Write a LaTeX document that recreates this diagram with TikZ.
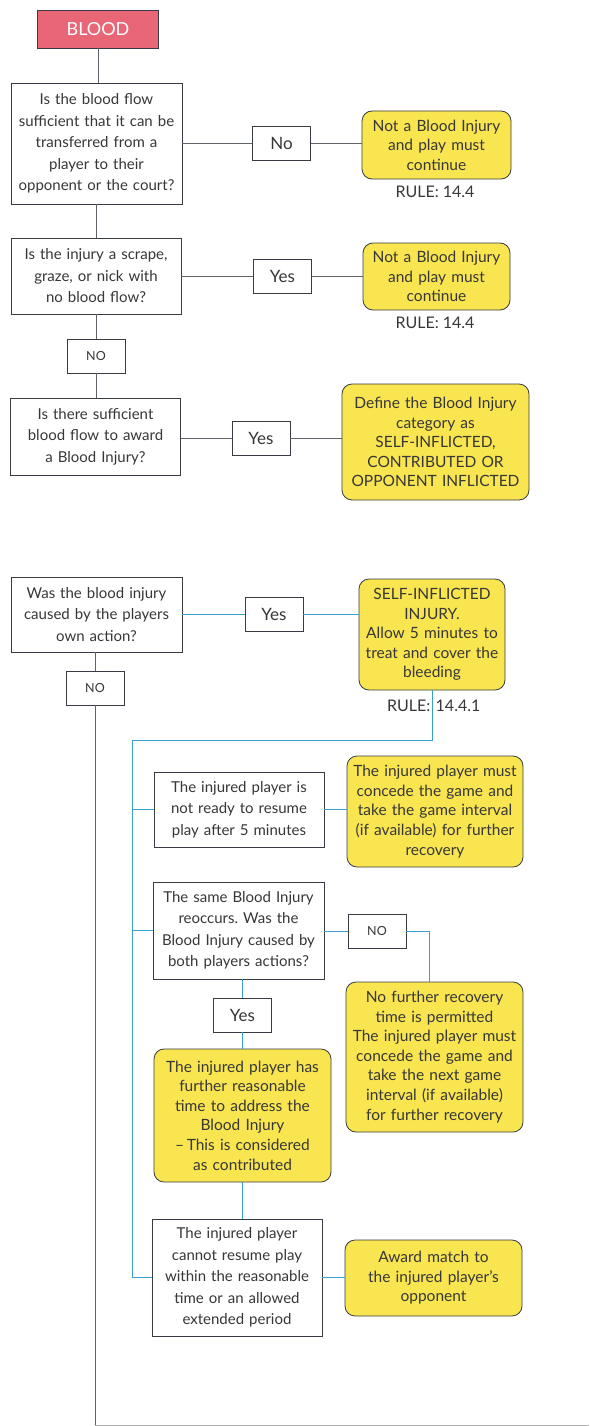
\documentclass[tikz,border=0pt]{standalone}
\usepackage{fontspec}
\setmainfont{Lato}
\frenchspacing
\definecolor{ylw}{RGB}{248,229,80}
\definecolor{pnk}{RGB}{232,102,118}
\definecolor{edge}{RGB}{55,60,68}
\definecolor{lnk}{RGB}{58,160,208}
\definecolor{ink}{RGB}{55,55,55}
\begin{document}
\begin{tikzpicture}[x=1pt,y=-1pt,
    qbox/.style={draw=edge, line width=0.8pt, fill=white, align=center, inner sep=0pt, text=ink, font=\fontsize{15}{21.5}\selectfont},
    abox/.style={draw=edge, line width=0.8pt, fill=ylw, rounded corners=10pt, align=center, inner sep=0pt, text=ink, font=\fontsize{15.5}{19.6}\selectfont},
    tag/.style={draw=edge, line width=0.8pt, fill=white, minimum width=58pt, minimum height=34pt, inner sep=0pt, text=ink, font=\fontsize{17}{20}\selectfont},
    tagsm/.style={tag, font=\fontsize{12.5}{14}\selectfont},
    rule/.style={text=ink, font=\fontsize{16}{18}\selectfont},
    ln/.style={draw=edge!80, line width=0.8pt},
    bl/.style={draw=lnk, line width=0.9pt}]
    \useasboundingbox (0,0) rectangle (589,1426);

    \node[draw=edge, line width=0.8pt, fill=pnk, text=white, minimum width=121pt, minimum height=38pt, font=\fontsize{18}{20}\selectfont] (blood) at (98,29) {BLOOD};
    \node[qbox, text width=171pt, minimum height=121pt] (q1) at (96.5,143.5) {Is the blood flow\\sufficient that it can be\\transferred from a\\player to their\\opponent or the court?};
    \node[tag] (no1) at (281.5,143.5) {No};
    \node[abox, text width=149pt, minimum height=68pt] (r1) at (436.5,145) {Not a Blood Injury\\and play must\\continue};
    \node[rule] (rule1) at (435,192) {RULE: 14.4};
    \node[qbox, text width=170pt, minimum height=76pt] (q2) at (96,276) {Is the injury a scrape,\\graze, or nick with\\no blood flow?};
    \node[tag] (yes1) at (282.5,276) {Yes};
    \node[abox, text width=147pt, minimum height=67pt] (r2) at (436.5,276.5) {Not a Blood Injury\\and play must\\continue};
    \node[rule] (rule2) at (435,323) {RULE: 14.4};
    \node[tagsm] (no2) at (96,356) {NO};
    \node[qbox, text width=170pt, minimum height=77pt] (q3) at (95.5,436.5) {Is there sufficient\\blood flow to award\\a Blood Injury?};
    \node[tag] (yes2) at (261,438.5) {Yes};
    \node[abox, text width=187pt, minimum height=116pt] (r3) at (435.5,442) {Define the Blood Injury\\category as\\SELF-INFLICTED,\\CONTRIBUTED OR\\OPPONENT INFLICTED};

    \draw[ln] (blood.south) -- (blood.south |- q1.north);
    \draw[ln] (q1.south -| no2) -- (q2.north -| no2);
    \draw[ln] (q2.south -| no2) -- (no2.north) (no2.south) -- (q3.north -| no2);
    \draw[ln] (q1.east) -- (no1.west) (no1.east) -- (no1.east -| r1.west);
    \draw[ln] (q2.east) -- (yes1.west) (yes1.east) -- (yes1.east -| r2.west);
    \draw[ln] (q3.east |- yes2) -- (yes2.west) (yes2.east) -- (yes2.east -| r3.west);

    \node[qbox, text width=171pt, minimum height=75pt] (q4) at (96.5,614.5) {Was the blood injury\\caused by the players\\own action?};
    \node[tag] (yes3) at (274,614.5) {Yes};
    \node[abox, text width=146pt, minimum height=111pt] (r4) at (432,634.5) {SELF-INFLICTED\\INJURY.\\Allow 5 minutes to\\treat and cover the\\bleeding};
    \node[rule] (rule3) at (433,706) {\makebox[0pt][r]{RULE:\,}\makebox[0pt][l]{\,14.4.1}};
    \node[tagsm] (no3) at (95,688) {NO};

    \node[qbox, text width=170pt, minimum height=75pt] (q5) at (239,809.5) {The injured player is\\not ready to resume\\play after 5 minutes};
    \node[abox, text width=176pt, minimum height=111pt] (r5) at (435,811.5) {The injured player must\\concede the game and\\take the game interval\\(if available) for further\\recovery};
    \node[qbox, text width=171pt, minimum height=97pt] (q6) at (238.5,930.5) {The same Blood Injury\\reoccurs. Was the\\Blood Injury caused by\\both players actions?};
    \node[tagsm] (no4) at (377,931.5) {NO};
    \node[abox, text width=177pt, minimum height=150pt] (r6) at (434.5,1057) {No further recovery\\time is permitted\\The injured player must\\concede the game and\\take the next game\\interval (if available)\\for further recovery};
    \node[tag] (yes4) at (242.5,1015) {Yes};
    \node[abox, text width=177pt, minimum height=133pt] (r7) at (242.5,1115.5) {The injured player has\\further reasonable\\time to address the\\Blood Injury\\--\,This is considered\\as contributed};
    \node[qbox, text width=170pt, minimum height=117pt] (q7) at (237,1277.5) {The injured player\\cannot resume play\\within the reasonable\\time or an allowed\\extended period};
    \node[abox, text width=177pt, minimum height=76pt] (r8) at (433.5,1278) {Award match to\\the injured player's\\opponent};

    \coordinate (rail) at (132,740);
    \coordinate (foot) at (95,1425);
    \draw[bl] (q4.east |- yes3) -- (yes3.west) (yes3.east) -- (yes3.east -| r4.west);
    \draw[bl] (r4.south) -- (r4.south |- rail) -- (rail) |- (q7.west);
    \draw[bl] (rail |- q5.west) -- (q5.west) (q5.east) -- (q5.east -| r5.west);
    \draw[bl] (rail |- q6.west) -- (q6.west) (q6.east |- no4) -- (no4.west);
    \draw[bl] (no4.east) -| ([xshift=-5pt]r6.north);
    \draw[bl] (yes4.north |- q6.south) -- (yes4.north) (yes4.south) -- (yes4.south |- r7.north);
    \draw[bl] (r7.south -| yes4) -- (q7.north -| yes4) (q7.east) -- (q7.east -| r8.west);
    \draw[ln] (q4.south -| no3) -- (no3.north) (no3.south) -- (foot);
    \draw[draw=gray!60, line width=0.6pt] (foot) -- (589,1425);
\end{tikzpicture}
\end{document}
